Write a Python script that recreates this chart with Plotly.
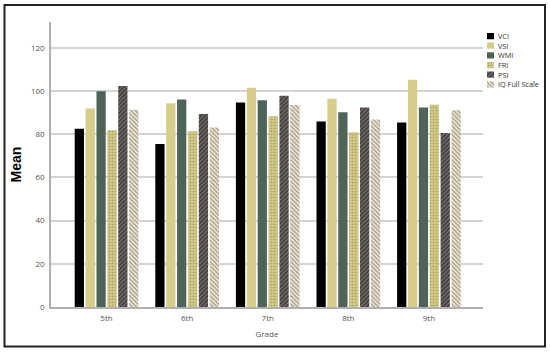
import plotly.graph_objects as go

grades = ["5th", "6th", "7th", "8th", "9th"]
series_names = ["VCI", "VSI", "WMI", "FRI", "PSI", "IQ Full Scale"]
vci = [82.6, 75.5, 94.7, 85.9, 85.4]
vsi = [91.9, 94.4, 101.5, 96.5, 105.3]
wmi = [99.9, 96.1, 95.8, 90.2, 92.4]
fri = [81.9, 81.4, 88.3, 80.9, 93.7]
psi = [102.4, 89.4, 97.8, 92.4, 80.6]
iq = [91.4, 83.1, 93.6, 86.8, 91.1]
y_ticks = [0, 20, 40, 60, 80, 100, 120]

values = [vci, vsi, wmi, fri, psi, iq]
styles = [
    dict(color="#000000", pattern=dict(shape="")),
    dict(color="#d6cd8b", pattern=dict(shape="")),
    dict(color="#4e6459", pattern=dict(shape="")),
    dict(color="#d6cd8b", pattern=dict(shape=".", fgcolor="#847b40", size=3, solidity=0.4)),
    dict(color="#443d3e", pattern=dict(shape="/", fgcolor="#cfc9c2", size=3, solidity=0.3, bgcolor="#443d3e")),
    dict(color="#f3eddc", pattern=dict(shape="\\", fgcolor="#5e5242", size=3, solidity=0.5, bgcolor="#f3eddc")),
]

W, H = 550, 353
L, R, T, B = 51, 4, 22, 46
pw, ph = W - L - R, H - T - B

def px_x(px):
    return (px - L) / pw

def px_y(py):
    return (H - B - py) / ph

fig = go.Figure()
for name, vals, st in zip(series_names, values, styles):
    fig.add_trace(go.Bar(
        x=grades, y=vals, name=name, showlegend=False,
        marker=dict(color=st["color"], line=dict(width=0), pattern=st["pattern"]),
        xaxis="x", yaxis="y",
    ))

# compact legend drawn as tiny horizontal bars on an inset axis
for name, st in zip(series_names, styles):
    fig.add_trace(go.Bar(
        y=[name], x=[1], orientation="h", showlegend=False, hoverinfo="skip",
        width=0.64, offset=-0.32,
        marker=dict(color=st["color"], line=dict(width=0), pattern=st["pattern"]),
        xaxis="x2", yaxis="y2",
    ))

annotations = [
    dict(text=name, xref="paper", yref="y2", x=px_x(497), y=name, xanchor="left",
         yanchor="middle", showarrow=False, borderpad=0,
         font=dict(size=7.3, color="#333333"))
    for name in series_names
]

leg_top, leg_step = 31.2, 9.67
fig.update_layout(
    width=W, height=H,
    margin=dict(l=L, r=R, t=T, b=B, autoexpand=False),
    paper_bgcolor="white", plot_bgcolor="white",
    barmode="group", bargap=0.19, bargroupgap=0.15,
    font=dict(family="Open Sans, Arial", color="#555555", size=8),
    showlegend=False,
    xaxis=dict(domain=[0, px_x(483)], range=[-0.689, 4.671], showgrid=False, showline=True,
               linecolor="#b0b0b0", linewidth=1.5, ticks="", ticklabelstandoff=3,
               tickfont=dict(size=8, color="#555555"), automargin=False,
               title=dict(text="Grade", font=dict(size=8, color="#555555"), standoff=9)),
    yaxis=dict(range=[0, 132], tickvals=y_ticks, showgrid=True, gridcolor="#d4d4d4",
               gridwidth=1.8, showline=True, linecolor="#b0b0b0", linewidth=1.5,
               zeroline=False, ticks="", ticklabelstandoff=3, tickfont=dict(size=8, color="#555555"),
               automargin=False,
               title=dict(text="<b>Mean</b>", font=dict(size=14, color="#000000",
                          family="Liberation Sans, Arial"), standoff=6)),
    xaxis2=dict(domain=[px_x(487), px_x(494)], range=[0, 1], visible=False, anchor="y2",
                fixedrange=True),
    yaxis2=dict(domain=[px_y(leg_top + 6 * leg_step), px_y(leg_top)], type="category",
                categoryorder="array", categoryarray=series_names, range=[5.5, -0.5],
                visible=False, anchor="x2", fixedrange=True),
    annotations=annotations,
    shapes=[dict(type="rect", xref="paper", yref="paper",
                 x0=px_x(4.5), x1=px_x(545), y0=px_y(346.5), y1=px_y(5),
                 line=dict(color="#222222", width=2), fillcolor="rgba(0,0,0,0)", layer="above")],
)

fig.write_html("out.html", config={"displayModeBar": False},
               post_script="document.body.style.margin='0px';document.body.style.overflow='hidden';")
